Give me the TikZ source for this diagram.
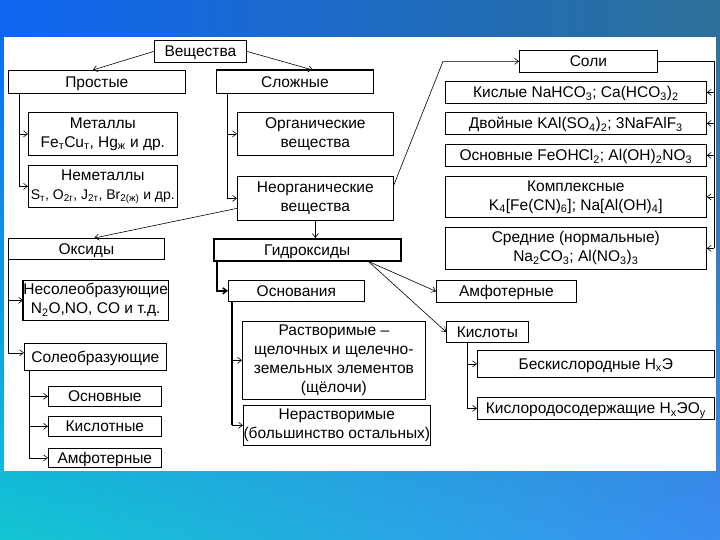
\documentclass[tikz,border=0pt]{standalone}
\usepackage{fontspec}
\setmainfont{Liberation Sans}
\usetikzlibrary{arrows.meta,shadings}

\definecolor{bgtl}{HTML}{1066F2}
\definecolor{bgtm}{HTML}{3232C8}
\definecolor{bgtr}{HTML}{2C7098}
\definecolor{bgbl}{HTML}{12C6D2}
\definecolor{bgbr}{HTML}{3A8CF2}

\tikzset{
  box/.style={draw, line width=.7pt, inner sep=0pt, anchor=north west, align=center,
    font=\fontsize{15.5}{19}\selectfont},
  one/.style={box, text height=14pt, text depth=3pt},
  ln/.style={line width=.6pt},
  arr/.style={line width=.6pt, -{Straight Barb[length=4pt,width=6pt]}}
}

\begin{document}
\begin{tikzpicture}[x=1pt, y=-1pt]
      \useasboundingbox (0,0) rectangle (720,540);
      %fon
      \shade[upper left=bgtl, upper right=bgtr, lower left=bgbl, lower right=bgbr] (0,0) rectangle (720,540);
      \shade[left color=bgtl, middle color=bgtm, right color=bgtr] (0,0) rectangle (720,37);
      \fill[white] (4,37) rectangle (716,471);
      %Вещества
      \node[one, minimum width=92, minimum height=22] (veshch) at (154,40) {Вещества};
      \node[one, minimum width=177, minimum height=23] (prost) at (8,70) {Простые};
      \node[one, minimum width=157, minimum height=23] (slozh) at (216,70) {Сложные};
      \draw[line width=1.8pt] (slozh.north west) -- (slozh.north east);
      \draw[arr] (veshch.west) -- ([xshift=-4]prost.north);
      \draw[arr] (veshch.east) -- ([xshift=18]slozh.north);
      %Простые
      \node[box, minimum width=149, minimum height=43] (met) at (28,112) {Металлы\\Fe\textsubscript{т}Cu\textsubscript{т}, Hg\textsubscript{ж} и др.};
      \node[box, minimum width=149, minimum height=42] (nemet) at (28,165) {Неметаллы\\{\fontsize{14}{19}\selectfont S\textsubscript{т}, O\textsubscript{2г}, J\textsubscript{2т}, Br\textsubscript{2(ж)} и др.}};
      \draw[arr] ([xshift=11]prost.south west) |- (met.west);
      \draw[arr] ([xshift=11]prost.south west) |- (nemet.west);
      %Сложные
      \node[box, minimum width=156, minimum height=43] (org) at (237,112) {Органические\\вещества};
      \node[box, minimum width=156, minimum height=44] (neorg) at (237,176) {Неорганические\\вещества};
      \draw[arr] ([xshift=11]slozh.south west) |- (org.west);
      \draw[arr] ([xshift=11]slozh.south west) |- (neorg.west);
      %Соли
      \node[one, minimum width=138, minimum height=22] (soli) at (519,50) {Соли};
      \node[one, minimum width=261, minimum height=22] (kisl) at (445,81) {Кислые NaHCO\textsubscript{3}; Ca(HCO\textsubscript{3})\textsubscript{2}};
      \node[one, minimum width=261, minimum height=22] (dvoin) at (445,112) {Двойные KAl(SO\textsubscript{4})\textsubscript{2}; 3NaFAlF\textsubscript{3}};
      \node[one, minimum width=261, minimum height=22] (osnsol) at (445,144) {Основные FeOHCl\textsubscript{2}; Al(OH)\textsubscript{2}NO\textsubscript{3}};
      \node[box, minimum width=261, minimum height=41] (kompl) at (445,176) {Комплексные\\K\textsubscript{4}[Fe(CN)\textsubscript{6}]; Na[Al(OH)\textsubscript{4}]};
      \node[box, minimum width=261, minimum height=42] (sred) at (445,227) {Средние (нормальные)\\Na\textsubscript{2}CO\textsubscript{3}; Al(NO\textsubscript{3})\textsubscript{3}};
      \coordinate (kink) at (443,0);
      \coordinate (bus) at (714,0);
      \draw[arr] ([yshift=13]neorg.east) -- (kink |- soli.west) -- (soli.west);
      \draw[ln] (soli.east) -- (bus |- soli.east) -- (bus |- sred.east);
      \foreach \n in {kisl,dvoin,osnsol,kompl,sred}
        \draw[arr] (bus |- \n.east) -- (\n.east);
      %Оксиды
      \node[one, minimum width=156, minimum height=21] (oksid) at (8,238) {Оксиды};
      \node[box, minimum width=144, minimum height=40] (nesol) at (23,280) {Несолеобразующие\\N\textsubscript{2}O,NO, CO и т.д.};
      \draw[line width=1.8pt] (nesol.north west) -- (nesol.south west);
      \node[one, minimum width=142, minimum height=27] (soleo) at (24,343) {Солеобразующие};
      \node[one, minimum width=113, minimum height=20] (osnok) at (48,386) {Основные};
      \node[one, minimum width=113, minimum height=20] (kislok) at (48,416) {Кислотные};
      \node[one, minimum width=113, minimum height=19] (amfok) at (48,448) {Амфотерные};
      \draw[arr] ([yshift=-10]neorg.west) -- ([xshift=8]oksid.north);
      \draw[arr] (oksid.south west) |- (nesol.west);
      \draw[arr] (oksid.south west) |- ([yshift=4]soleo.west);
      \foreach \n in {osnok,kislok,amfok}
        \draw[arr] ([xshift=5]soleo.south west) |- (\n.west);
      %Гидроксиды
      \node[one, line width=1.5pt, minimum width=187, minimum height=22] (gidr) at (213,238) {Гидроксиды};
      \node[one, minimum width=136, minimum height=21] (osnov) at (228,280) {Основания};
      \node[box, minimum width=183, minimum height=78] (rastv) at (242,321) {Растворимые –\\щелочных и щелечно-\\земельных элементов\\(щёлочи)};
      \node[box, minimum width=187, minimum height=40] (nerast) at (243,405) {Нерастворимые\\(большинство остальных)};
      \node[one, minimum width=140, minimum height=22] (amfgid) at (436,280) {Амфотерные};
      \node[one, minimum width=82, minimum height=21] (kislo) at (446,321) {Кислоты};
      \node[one, minimum width=237, minimum height=27] (beskis) at (477,350) {Бескислородные H\textsubscript{x}Э};
      \node[one, minimum width=237, minimum height=22] (kislor) at (477,397) {Кислородосодержащие H\textsubscript{x}ЭO\textsubscript{y}};
      \draw[arr] (neorg.south) -- (neorg.south |- gidr.north);
      \draw[arr, line width=1.5pt] ([xshift=4]gidr.south west) |- (osnov.west);
      \draw[line width=1.8pt] ([xshift=4]osnov.south west) -- ([xshift=4]osnov.south west |- nerast.west);
      \draw[arr] ([xshift=4]osnov.south west) |- (rastv.west);
      \draw[arr] ([xshift=4]osnov.south west) |- (nerast.west);
      \draw[arr] ([xshift=-33]gidr.south east) -- (amfgid.west);
      \draw[arr] ([xshift=-33]gidr.south east) -- (kislo.west);
      \draw[arr] ([xshift=21]kislo.south west) |- (beskis.west);
      \draw[arr] ([xshift=21]kislo.south west) |- (kislor.west);
\end{tikzpicture}
\end{document}
